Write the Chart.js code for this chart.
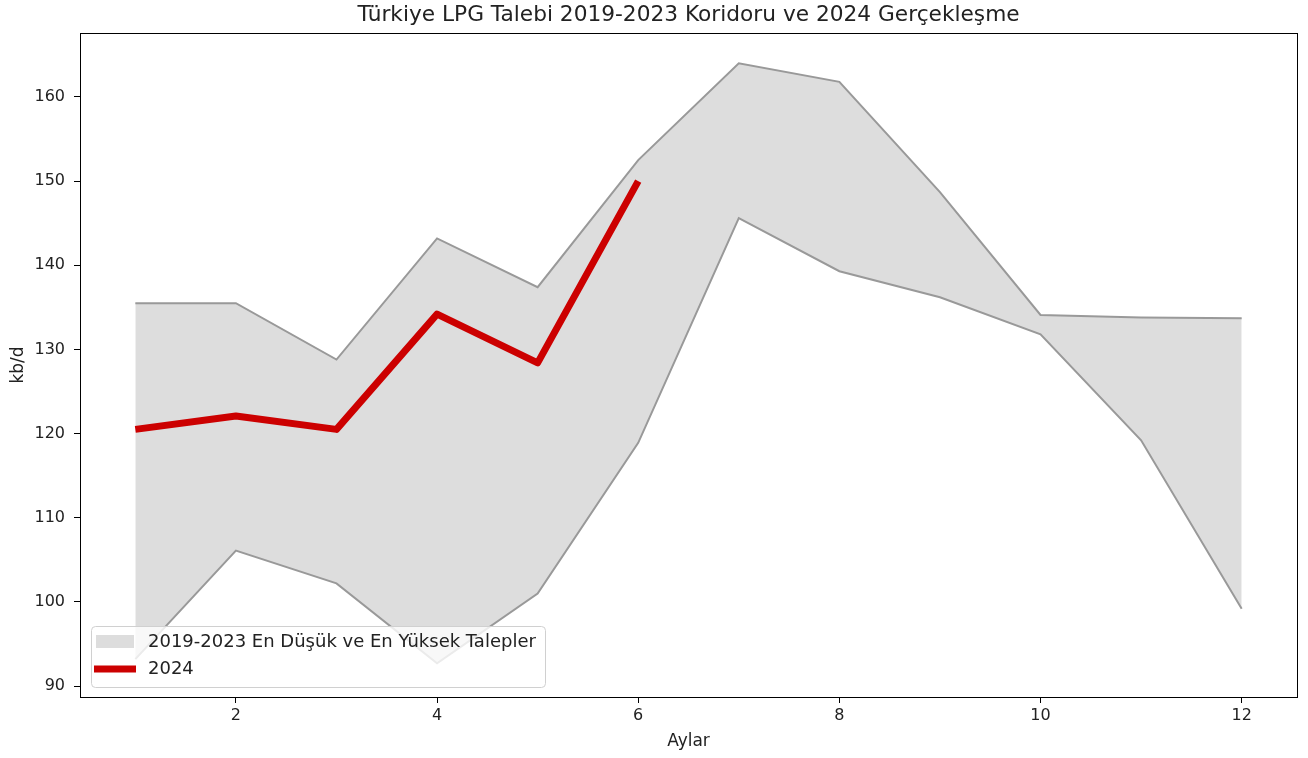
<!DOCTYPE html>
<html>
<head>
<meta charset="utf-8">
<script src="https://cdn.jsdelivr.net/npm/chart.js@4"></script>
<style>
  html, body { margin: 0; padding: 0; background: #fff; }
  #wrap { width: 1308px; height: 758px; position: relative; }
</style>
</head>
<body>
<div id="wrap"><canvas id="lpgChart"></canvas></div>
<script>
// ---------------- DATA ----------------
const months = [1, 2, 3, 4, 5, 6, 7, 8, 9, 10, 11, 12];
const maxDemand = [135.5, 135.5, 128.8, 143.2, 137.4, 152.5, 164.0, 161.8, 148.7, 134.1, 133.8, 133.7];
const minDemand = [93.2, 106.1, 102.2, 92.7, 101.0, 118.9, 145.6, 139.3, 136.2, 131.8, 119.2, 99.2];
const months2024 = [1, 2, 3, 4, 5, 6];
const demand2024 = [120.5, 122.1, 120.5, 134.2, 128.4, 150.0];
const xTicks = [2, 4, 6, 8, 10, 12];
const yTicks = [90, 100, 110, 120, 130, 140, 150, 160];

const bandLabel = "2019-2023 En Düşük ve En Yüksek Talepler";
const lineLabel = "2024";

const FONT = "'DejaVu Sans', sans-serif";
const BAND = "#dddddd";
const EDGE = "#999999";
const RED = "#cc0000";

const toPoints = (xs, ys) => xs.map((x, i) => ({ x: x, y: ys[i] }));

// ---------------- PLUGINS ----------------
// center the title over the plot area, like matplotlib
const titleOverAxes = {
  id: "titleOverAxes",
  afterLayout(chart) {
    const t = chart.titleBlock, a = chart.chartArea;
    if (!t) return;
    t.left = a.left;
    t.right = a.right;
    t.width = a.right - a.left;
  }
};

// full box around the plot area (matplotlib spines)
const frame = {
  id: "frame",
  afterDatasetsDraw(chart) {
    const a = chart.chartArea, ctx = chart.ctx;
    ctx.save();
    ctx.strokeStyle = "#000";
    ctx.lineWidth = 1;
    ctx.strokeRect(Math.round(a.left) + 0.5, Math.round(a.top) + 0.5,
      Math.round(a.right - a.left), Math.round(a.bottom - a.top));
    ctx.restore();
  }
};

// legend drawn inside the plot, lower left
const innerLegend = {
  id: "innerLegend",
  afterDraw(chart) {
    const a = chart.chartArea, ctx = chart.ctx;
    const x = a.left + 11, y = a.bottom - 71, w = 454, h = 61;
    ctx.save();
    ctx.beginPath();
    ctx.roundRect(x + 0.5, y + 0.5, w, h, 4);
    ctx.fillStyle = "rgba(255,255,255,0.8)";
    ctx.fill();
    ctx.strokeStyle = "#d0d0d0";
    ctx.lineWidth = 1;
    ctx.stroke();

    ctx.fillStyle = BAND;
    ctx.fillRect(x + 5, y + 9, 38, 13);

    ctx.strokeStyle = RED;
    ctx.lineWidth = 7;
    ctx.beginPath();
    ctx.moveTo(x + 3, y + 43);
    ctx.lineTo(x + 45, y + 43);
    ctx.stroke();

    ctx.fillStyle = "#222";
    ctx.font = "18px " + FONT;
    ctx.textBaseline = "middle";
    ctx.fillText(bandLabel, x + 57, y + 16);
    ctx.fillText(lineLabel, x + 57, y + 43);
    ctx.restore();
  }
};

// ---------------- CHART ----------------
const ctx = document.getElementById("lpgChart").getContext("2d");

new Chart(ctx, {
  type: "line",
  data: {
    datasets: [
      {
        label: lineLabel,
        data: toPoints(months2024, demand2024),
        borderColor: RED,
        borderWidth: 7,
        borderJoinStyle: "round",
        borderCapStyle: "butt",
        pointRadius: 0,
        fill: false
      },
      {
        label: "min",
        data: toPoints(months, minDemand),
        borderColor: EDGE,
        borderWidth: 2,
        pointRadius: 0,
        fill: false
      },
      {
        label: bandLabel,
        data: toPoints(months, maxDemand),
        borderColor: EDGE,
        borderWidth: 2,
        pointRadius: 0,
        backgroundColor: BAND,
        fill: 1
      }
    ]
  },
  options: {
    responsive: true,
    maintainAspectRatio: false,
    animation: false,
    layout: { padding: { left: 0, right: 11, top: 0, bottom: 0 } },
    plugins: {
      legend: { display: false },
      tooltip: { enabled: false },
      title: {
        display: true,
        text: "Türkiye LPG Talebi 2019-2023 Koridoru ve 2024 Gerçekleşme",
        color: "#222",
        font: { family: FONT, size: 21.7, weight: "normal" },
        padding: { top: 2, bottom: 5 }
      }
    },
    scales: {
      x: {
        type: "linear",
        min: 0.45,
        max: 12.55,
        afterBuildTicks: s => { s.ticks = xTicks.map(v => ({ value: v })); },
        afterFit: s => { s.height = 61; },
        grid: { display: true, drawOnChartArea: false, drawTicks: true, tickLength: 6, color: "#000" },
        border: { display: true, color: "#000" },
        ticks: { color: "#222", font: { family: FONT, size: 16 }, padding: 3, maxRotation: 0 },
        title: {
          display: true, text: "Aylar", color: "#222",
          font: { family: FONT, size: 17 }, padding: { top: 0, bottom: 6 }
        }
      },
      y: {
        type: "linear",
        min: 88.7,
        max: 167.6,
        afterBuildTicks: s => { s.ticks = yTicks.map(v => ({ value: v })); },
        afterFit: s => { s.width = 80; },
        grid: { display: true, drawOnChartArea: false, drawTicks: true, tickLength: 6, color: "#000" },
        border: { display: true, color: "#000" },
        ticks: { color: "#222", font: { family: FONT, size: 16 }, padding: 9 },
        title: {
          display: true, text: "kb/d", color: "#222",
          font: { family: FONT, size: 17 }, padding: { top: 8, bottom: 0 }
        }
      }
    }
  },
  plugins: [titleOverAxes, frame, innerLegend]
});
</script>
</body>
</html>
